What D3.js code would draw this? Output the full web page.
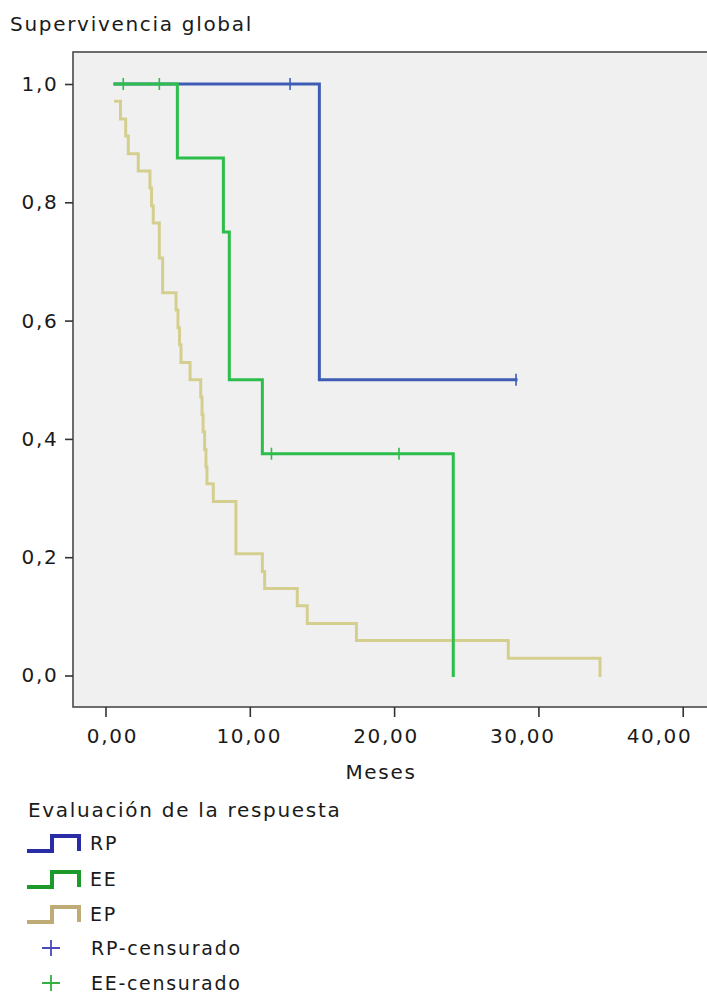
<!DOCTYPE html>
<html>
<head>
<meta charset="utf-8">
<script src="https://cdn.jsdelivr.net/npm/d3@7"></script>
<style>
  html, body { margin: 0; padding: 0; background: #ffffff; }
  svg { display: block; }
  text { font-family: "DejaVu Sans", Verdana, sans-serif; fill: #1a1a1a; letter-spacing: 1.7px; }
</style>
</head>
<body>
<svg id="chart" width="707" height="995"></svg>
<script>
// ---------- data ----------
const title = "Supervivencia global";
const xTitle = "Meses";
const legendTitle = "Evaluación de la respuesta";

const xTicks = [0, 10, 20, 30, 40];
const yTicks = [0, 0.2, 0.4, 0.6, 0.8, 1.0];

// RP
const rpTimes = [0.66, 14.82, 28.45];
const rpSurv  = [1.0, 0.5, 0.5];
const rpCensTimes = [12.79, 28.45];
const rpCensSurv  = [1.0, 0.5];

// EE
const eeTimes = [0.66, 4.98, 8.17, 8.58, 10.87, 24.10];
const eeSurv  = [1.0, 0.875, 0.75, 0.5, 0.375, 0.0];
const eeCensTimes = [1.23, 3.73, 11.50, 20.34];
const eeCensSurv  = [1.0, 1.0, 0.375, 0.375];

// EP
const epTimes = [0.70, 1.04, 1.40, 1.58, 2.27, 3.08, 3.19, 3.31, 3.73, 3.96,
                 4.89, 5.02, 5.13, 5.23, 5.86, 6.60, 6.69, 6.76, 6.87, 6.96,
                 7.03, 7.47, 9.04, 10.87, 11.03, 13.29, 13.98, 17.39, 27.91, 34.27];
const epSurv  = [0.971, 0.941, 0.912, 0.882, 0.853, 0.824, 0.794, 0.765, 0.706, 0.647,
                 0.618, 0.588, 0.559, 0.529, 0.500, 0.471, 0.441, 0.412, 0.382, 0.353,
                 0.324, 0.294, 0.206, 0.176, 0.147, 0.118, 0.088, 0.059, 0.029, 0.000];

const seriesNames = ["RP", "EE", "EP"];
const censNames = ["RP-censurado", "EE-censurado"];

// ---------- styles ----------
const lineColors = { RP: "#3f5cb4", EE: "#2dbd4b", EP: "#d5cf8f" };
const legendColors = { RP: "#2a2ca6", EE: "#1c9a2a", EP: "#bfab76" };
const censLegendColors = ["#4a4ab8", "#34b044"];

// ---------- layout ----------
const svg = d3.select("#chart");
const frame = { left: 73, top: 52, right: 780, bottom: 707 };

const x = d3.scaleLinear().domain([0, 40]).range([105.5, 682.7]);
const xLab = d3.scaleLinear().domain([0, 40]).range([112, 659]);
const y = d3.scaleLinear().domain([0, 1]).range([675.5, 84]);

const loc = d3.formatLocale({ decimal: ",", thousands: ".", grouping: [3], currency: ["", ""] });

// title
svg.append("text").attr("x", 10).attr("y", 31).attr("font-size", 20).text(title);

// plot frame
svg.append("rect")
  .attr("x", frame.left).attr("y", frame.top)
  .attr("width", frame.right - frame.left).attr("height", frame.bottom - frame.top)
  .attr("fill", "#f0f0f0").attr("stroke", "#4a4a4a").attr("stroke-width", 1.6);

// y axis
const yAxis = svg.append("g").attr("transform", `translate(${frame.left},0)`)
  .call(d3.axisLeft(y).tickValues(yTicks).tickSize(8).tickPadding(6.5).tickFormat(loc.format(".1f")));
yAxis.select(".domain").remove();
yAxis.selectAll(".tick line").attr("stroke", "#333").attr("stroke-width", 1.6);
yAxis.selectAll(".tick text").attr("font-size", 20).attr("font-family", "DejaVu Sans").attr("fill", "#1a1a1a");

// x axis: tick marks
const xAxis = svg.append("g").attr("transform", `translate(0,${frame.bottom})`)
  .call(d3.axisBottom(x).tickValues(xTicks).tickSize(10).tickFormat(""));
xAxis.select(".domain").remove();
xAxis.selectAll(".tick line").attr("stroke", "#333").attr("stroke-width", 1.6);

// x axis: labels
const xLabAxis = svg.append("g").attr("transform", `translate(0,${frame.bottom})`)
  .call(d3.axisBottom(xLab).tickValues(xTicks).tickSize(0).tickPadding(21.5).tickFormat(loc.format(".2f")));
xLabAxis.select(".domain").remove();
xLabAxis.selectAll(".tick text").attr("font-size", 20).attr("font-family", "DejaVu Sans").attr("fill", "#1a1a1a");

// x title
svg.append("text").attr("x", 381).attr("y", 779).attr("text-anchor", "middle")
  .attr("font-size", 20).text(xTitle);

// curves
const line = d3.line().x(d => x(d[0])).y(d => y(d[1])).curve(d3.curveStepAfter);
const curves = {
  RP: rpTimes.map((t, i) => [t, rpSurv[i]]),
  EE: eeTimes.map((t, i) => [t, eeSurv[i]]),
  EP: epTimes.map((t, i) => [t, epSurv[i]])
};
["EP", "RP", "EE"].forEach(name => {
  svg.append("path").attr("d", line(curves[name]))
    .attr("fill", "none").attr("stroke", lineColors[name]).attr("stroke-width", 3)
    .attr("stroke-linejoin", "miter").attr("stroke-linecap", "square");
});

// censor marks
function censor(times, surv, color) {
  svg.append("g").selectAll("line").data(times.map((t, i) => [t, surv[i]])).join("line")
    .attr("x1", d => x(d[0])).attr("x2", d => x(d[0]))
    .attr("y1", d => y(d[1]) - 6).attr("y2", d => y(d[1]) + 6)
    .attr("stroke", color).attr("stroke-width", 1.6);
}
censor(rpCensTimes, rpCensSurv, lineColors.RP);
censor(eeCensTimes, eeCensSurv, lineColors.EE);

// legend
const lg = svg.append("g");
lg.append("text").attr("x", 28).attr("y", 817).attr("font-size", 20).text(legendTitle);
const rowY = [850, 886, 921, 955, 990];
seriesNames.forEach((name, i) => {
  const cy = rowY[i] - 7;
  lg.append("path")
    .attr("d", `M27,${cy + 8}H52V${cy - 7}H79V${cy + 8}`)
    .attr("fill", "none").attr("stroke", legendColors[name]).attr("stroke-width", 4);
  lg.append("text").attr("x", 90).attr("y", rowY[i]).attr("font-size", 19).text(name);
});
censNames.forEach((name, i) => {
  const cy = rowY[3 + i] - 7;
  lg.append("path").attr("d", `M42,${cy}H60M51,${cy - 8}V${cy + 8}`)
    .attr("stroke", censLegendColors[i]).attr("stroke-width", 1.8).attr("fill", "none");
  lg.append("text").attr("x", 91).attr("y", rowY[3 + i]).attr("font-size", 19).text(name);
});
</script>
</body>
</html>
